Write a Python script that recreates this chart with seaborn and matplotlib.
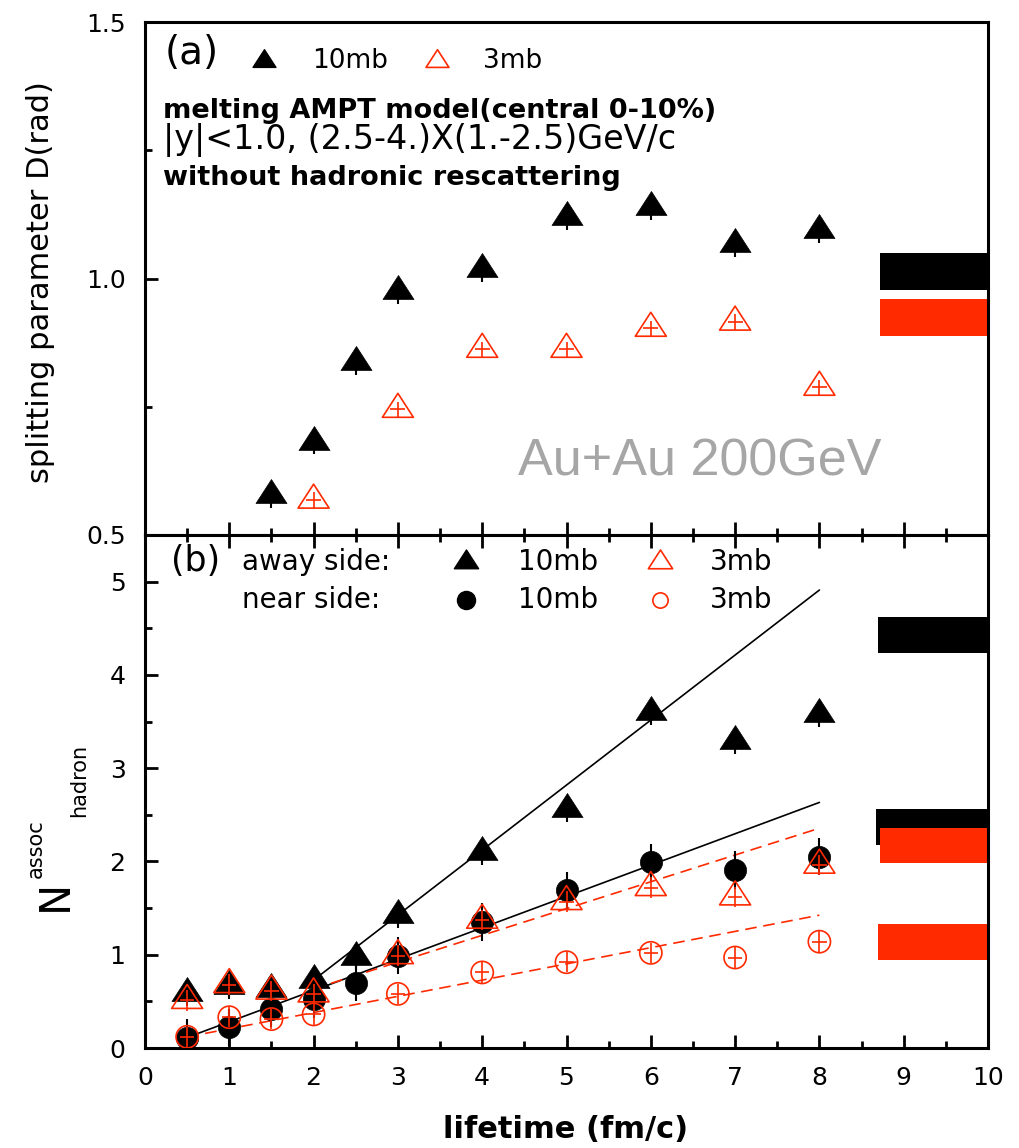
import numpy as np
import pandas as pd
import matplotlib
matplotlib.use("Agg")
import matplotlib.pyplot as plt
from matplotlib.path import Path
from matplotlib.ticker import MultipleLocator, FormatStrFormatter
import seaborn as sns

# ---------------- data ----------------
# panel (a): splitting parameter D (rad)
life_a10 = [1.5, 2, 2.5, 3, 4, 5, 6, 7, 8]
split_10mb = [0.577, 0.682, 0.837, 0.975, 1.018, 1.120, 1.139, 1.067, 1.094]
split_err_10mb = [0.025, 0.025, 0.025, 0.025, 0.025, 0.025, 0.025, 0.025, 0.025]
life_a3 = [2, 3, 4, 5, 6, 7, 8]
split_3mb = [0.568, 0.745, 0.862, 0.862, 0.903, 0.915, 0.788]
split_err_3mb = [0.015, 0.015, 0.015, 0.015, 0.015, 0.015, 0.015]

band_a_low = [0.978, 0.888]
band_a_high = [1.050, 0.960]
band_a_left = [8.72, 8.72]
band_a_kind = ["10mb", "3mb"]

# panel (b): associated hadron yields
life_b10 = [0.5, 1, 1.5, 2, 2.5, 3, 4, 5, 6, 7, 8]
away_10mb = [0.59, 0.66, 0.63, 0.73, 0.975, 1.43, 2.10, 2.56, 3.60, 3.29, 3.58]
away_err_10mb = [0.14, 0.14, 0.14, 0.14, 0.14, 0.14, 0.14, 0.14, 0.14, 0.14, 0.14]
near_10mb = [0.11, 0.22, 0.42, 0.52, 0.70, 0.99, 1.35, 1.69, 1.99, 1.91, 2.05]
near_err_10mb = [0.2, 0.2, 0.2, 0.2, 0.2, 0.2, 0.2, 0.2, 0.2, 0.2, 0.2]
life_b3 = [0.5, 1, 1.5, 2, 3, 4, 5, 6, 7, 8]
away_3mb = [0.51, 0.68, 0.61, 0.58, 0.99, 1.37, 1.57, 1.72, 1.62, 1.96]
away_err_3mb = [0.11, 0.11, 0.11, 0.11, 0.11, 0.11, 0.11, 0.11, 0.11, 0.11]
near_3mb = [0.12, 0.33, 0.31, 0.36, 0.58, 0.81, 0.92, 1.02, 0.97, 1.14]
near_err_3mb = [0.11, 0.11, 0.11, 0.11, 0.11, 0.11, 0.11, 0.11, 0.11, 0.11]

# linear fits shown as lines
fit_kind = ["10mb", "10mb", "3mb", "3mb"]
fit_x0 = [2.0, 0.5, 2.0, 0.5]
fit_x1 = [8.0, 8.0, 8.0, 8.0]
fit_slope = [0.697, 0.336, 0.287, 0.174]
fit_icpt = [-0.666, -0.055, 0.060, 0.032]

band_b_low = [4.23, 2.18, 1.98, 0.94]
band_b_high = [4.62, 2.56, 2.36, 1.33]
band_b_left = [8.70, 8.67, 8.72, 8.70]
band_b_kind = ["10mb", "10mb", "3mb", "3mb"]

x_ticks = [0, 1, 2, 3, 4, 5, 6, 7, 8, 9, 10]

# ---------------- style ----------------
sns.set_theme(style="white")
plt.rcParams["font.family"] = ["DejaVu Sans"]
plt.rcParams["axes.linewidth"] = 2.2
plt.rcParams["text.color"] = "black"
plt.rcParams["axes.labelcolor"] = "black"
plt.rcParams["xtick.color"] = "black"
plt.rcParams["ytick.color"] = "black"
RED = "#ff2a00"
COLOR = {"10mb": "black", "3mb": RED}

W, H = 1019, 1148
fig = plt.figure(figsize=(W / 100, H / 100), dpi=100)
fig.patch.set_facecolor("white")


def fx(px):
    return px / W


def fy(py):
    return 1 - py / H


axA = fig.add_axes([fx(145), fy(535), 843 / W, 513 / H])
axB = fig.add_axes([fx(145), fy(1048), 843 / W, 513 / H])

tri = Path([(0, 1), (-0.97, -0.5), (0.97, -0.5), (0, 1)],
           [Path.MOVETO, Path.LINETO, Path.LINETO, Path.CLOSEPOLY])

TRI_S = 23 ** 2
CIR_S = 16 ** 2

# ---------------- panel (a) ----------------
dfa10 = pd.DataFrame({"t": life_a10, "D": split_10mb, "e": split_err_10mb})
dfa3 = pd.DataFrame({"t": life_a3, "D": split_3mb, "e": split_err_3mb})

axA.errorbar(dfa10["t"], dfa10["D"], yerr=dfa10["e"], fmt="none",
             ecolor="black", elinewidth=1.5, zorder=3)
sns.scatterplot(data=dfa10, x="t", y="D", ax=axA, marker=tri, s=TRI_S,
                color="black", edgecolor="black", linewidth=0.5, zorder=5,
                legend=False)
axA.errorbar(dfa3["t"], dfa3["D"], xerr=0.09, yerr=dfa3["e"], fmt="none",
             ecolor=RED, elinewidth=1.2, zorder=4)
sns.scatterplot(data=dfa3, x="t", y="D", ax=axA, marker=tri, s=TRI_S,
                facecolor="none", edgecolor=RED, linewidth=1.2, zorder=5,
                legend=False)

for lo, hi, left, kind in zip(band_a_low, band_a_high, band_a_left, band_a_kind):
    axA.barh(y=(lo + hi) / 2, width=10 - left, height=hi - lo, left=left,
             color=COLOR[kind], linewidth=0, zorder=2)

# ---------------- panel (b) ----------------
dfb10 = pd.DataFrame({"t": life_b10, "away": away_10mb, "ea": away_err_10mb,
                      "near": near_10mb, "en": near_err_10mb})
dfb3 = pd.DataFrame({"t": life_b3, "away": away_3mb, "ea": away_err_3mb,
                     "near": near_3mb, "en": near_err_3mb})

for kind, x0, x1, m, c in zip(fit_kind, fit_x0, fit_x1, fit_slope, fit_icpt):
    xs = np.array([x0, x1])
    ls = "-" if kind == "10mb" else (0, (7, 4))
    sns.lineplot(x=xs, y=m * xs + c, ax=axB, color=COLOR[kind], lw=1.2,
                 linestyle=ls, zorder=2, legend=False)

axB.errorbar(dfb10["t"], dfb10["away"], yerr=dfb10["ea"], fmt="none",
             ecolor="black", elinewidth=1.5, zorder=3)
axB.errorbar(dfb10["t"], dfb10["near"], yerr=dfb10["en"], fmt="none",
             ecolor="black", elinewidth=1.5, zorder=3)
sns.scatterplot(data=dfb10, x="t", y="away", ax=axB, marker=tri, s=TRI_S,
                color="black", edgecolor="black", linewidth=0.5, zorder=5,
                legend=False)
sns.scatterplot(data=dfb10, x="t", y="near", ax=axB, marker="o", s=CIR_S,
                color="black", edgecolor="black", linewidth=0.5, zorder=5,
                legend=False)
axB.errorbar(dfb3["t"], dfb3["away"], xerr=0.085, yerr=dfb3["ea"], fmt="none",
             ecolor=RED, elinewidth=1.2, zorder=6)
axB.errorbar(dfb3["t"], dfb3["near"], xerr=0.085, yerr=dfb3["en"], fmt="none",
             ecolor=RED, elinewidth=1.2, zorder=6)
sns.scatterplot(data=dfb3, x="t", y="away", ax=axB, marker=tri, s=TRI_S,
                facecolor="none", edgecolor=RED, linewidth=1.2, zorder=6,
                legend=False)
sns.scatterplot(data=dfb3, x="t", y="near", ax=axB, marker="o", s=CIR_S,
                facecolor="none", edgecolor=RED, linewidth=1.2, zorder=6,
                legend=False)

for lo, hi, left, kind in zip(band_b_low, band_b_high, band_b_left, band_b_kind):
    axB.barh(y=(lo + hi) / 2, width=10 - left, height=hi - lo, left=left,
             color=COLOR[kind], linewidth=0, zorder=2)

# ---------------- axes styling ----------------
for ax in (axA, axB):
    ax.set_xlim(0, 10)
    ax.set_xlabel("")
    ax.set_ylabel("")
    ax.grid(False)
    for sp in ax.spines.values():
        sp.set_linewidth(2.2)
        sp.set_color("black")
    ax.xaxis.set_major_locator(MultipleLocator(1))
    ax.xaxis.set_minor_locator(MultipleLocator(0.5))
    ax.tick_params(which="major", direction="in", length=9.5, width=2.0,
                   color="black", labelsize=18, labelcolor="black")
    ax.tick_params(which="minor", direction="in", length=5, width=2.0,
                   color="black")
    ax.tick_params(axis="both", which="both", right=False)

axA.set_ylim(0.5, 1.5)
axA.yaxis.set_major_locator(MultipleLocator(0.5))
axA.yaxis.set_minor_locator(MultipleLocator(0.25))
axA.yaxis.set_major_formatter(FormatStrFormatter("%.1f"))
axA.tick_params(axis="x", which="both", bottom=True, top=False,
                labelbottom=False)
axA.tick_params(axis="y", which="both", left=True, pad=14)

axB.set_ylim(0, 5.5)
axB.yaxis.set_major_locator(MultipleLocator(1))
axB.yaxis.set_minor_locator(MultipleLocator(0.5))
axB.set_xticks(x_ticks)
axB.set_xticklabels([str(v) for v in x_ticks])
axB.tick_params(axis="x", which="both", bottom=True, top=True,
                labelbottom=True, pad=13)
axB.tick_params(axis="y", which="both", left=True, pad=14)

# ---------------- texts / legends ----------------
fig.text(fx(192), fy(64), "(a)", fontsize=28, ha="center", va="baseline")
axA.plot([fx(264)], [fy(61)], marker=tri, markersize=17, color="black",
         linestyle="none", transform=fig.transFigure, clip_on=False)
fig.text(fx(312), fy(68), "10mb", fontsize=19, va="baseline")
axA.plot([fx(437)], [fy(61)], marker=tri, markersize=17, markerfacecolor="none",
         markeredgecolor=RED, markeredgewidth=1.2, linestyle="none",
         transform=fig.transFigure, clip_on=False)
fig.text(fx(483), fy(68), "3mb", fontsize=19, va="baseline")

fig.text(fx(163), fy(118), "melting AMPT model(central 0-10%)",
         fontsize=19.5, fontweight="bold", va="baseline")
fig.text(fx(163), fy(149), "|y|<1.0, (2.5-4.)X(1.-2.5)GeV/c",
         fontsize=24, va="baseline")
fig.text(fx(163), fy(185), "without hadronic rescattering",
         fontsize=19.5, fontweight="bold", va="baseline")

fig.text(fx(700), fy(475), "Au+Au 200GeV", fontsize=37.5, color="#a6a6a6",
         ha="center", va="baseline", family=["Liberation Sans", "DejaVu Sans"])

fig.text(fx(196), fy(571), "(b)", fontsize=25, ha="center", va="baseline")
fig.text(fx(242), fy(570), "away side:", fontsize=20, va="baseline")
fig.text(fx(242), fy(608), "near side:", fontsize=20, va="baseline")
axB.plot([fx(466)], [fy(562)], marker=tri, markersize=18, color="black",
         linestyle="none", transform=fig.transFigure, clip_on=False)
axB.plot([fx(660)], [fy(562)], marker=tri, markersize=18, markerfacecolor="none",
         markeredgecolor=RED, markeredgewidth=1.2, linestyle="none",
         transform=fig.transFigure, clip_on=False)
axB.plot([fx(466)], [fy(600)], marker="o", markersize=13, color="black",
         linestyle="none", transform=fig.transFigure, clip_on=False)
axB.plot([fx(660)], [fy(600)], marker="o", markersize=11, markerfacecolor="none",
         markeredgecolor=RED, markeredgewidth=1.2, linestyle="none",
         transform=fig.transFigure, clip_on=False)
for yb in (570, 608):
    fig.text(fx(518), fy(yb), "10mb", fontsize=20, va="baseline")
    fig.text(fx(710), fy(yb), "3mb", fontsize=20, va="baseline")

# axis titles
fig.text(fx(41), fy(282), "splitting parameter D(rad)", rotation=90,
         fontsize=22, ha="center", va="center")
fig.text(fx(55), fy(895), "N", rotation=90, fontsize=30, ha="center",
         va="center")
fig.text(fx(36), fy(849), "assoc", rotation=90, fontsize=15, ha="center",
         va="center")
fig.text(fx(79), fy(780), "hadron", rotation=90, fontsize=15, ha="center",
         va="center")
fig.text(fx(566), fy(1130), "lifetime (fm/c)", fontsize=22, fontweight="bold",
         ha="center", va="center")

fig.savefig("out.png", dpi=100, facecolor="white")
